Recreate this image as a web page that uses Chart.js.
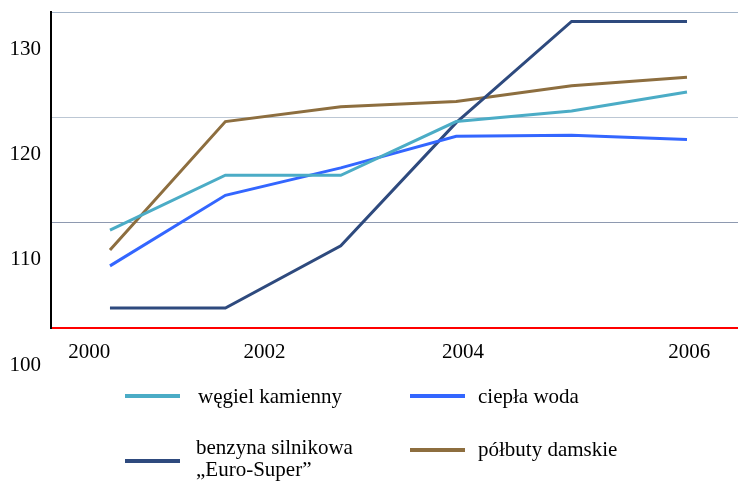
<!DOCTYPE html>
<html><head><meta charset="utf-8">
<script src="https://cdn.jsdelivr.net/npm/chart.js@4"></script>
<style>
html,body{margin:0;padding:0;background:#fff;}
#wrap{position:relative;width:738px;height:483px;overflow:hidden;}
canvas{position:absolute;left:0;top:0;}
.lg{position:absolute;font-family:"Liberation Serif","Times New Roman",serif;font-size:21px;color:#000;line-height:22px;white-space:pre;}
.sw{position:absolute;height:4px;width:55px;}
</style></head><body>
<div id="wrap"><canvas id="c" width="738" height="483"></canvas><div id="legend"></div></div>
<script>
// ---- data ----
const points = ['1', '2', '3', '4', '5', '6'];
const wegielKamienny = [109.3, 114.5, 114.5, 119.6, 120.6, 122.4];
const cieplaWoda     = [105.9, 112.6, 115.2, 118.2, 118.3, 117.9];
const benzyna        = [101.9, 101.9, 107.8, 119.5, 129.1, 129.1];
const polbutyDamskie = [107.4, 119.6, 121.0, 121.5, 123.0, 123.8];
const seriesNames = ['węgiel kamienny', 'ciepła woda', 'benzyna silnikowa\n„Euro-Super”', 'półbuty damskie'];
const yTickValues = [100, 110, 120, 130];
const xTickLabels = ['2000', '2002', '2004', '2006'];
const xTickPositions = [-0.18, 1.34, 3.06, 5.02];

const colors = ['#4bacc6', '#3366ff', '#2e4a7e', '#8d6e3f'];
const seriesValues = [wegielKamienny, cieplaWoda, benzyna, polbutyDamskie];
const FONT = {family: '"Liberation Serif", "Times New Roman", serif', size: 21};

const datasets = seriesValues.map((vals, s) => ({
  label: seriesNames[s],
  data: vals.map((v, i) => ({x: i, y: v})),
  borderColor: colors[s],
  backgroundColor: colors[s],
  borderWidth: 3,
  pointRadius: 0,
  tension: 0,
  fill: false,
  borderCapStyle: 'butt',
  borderJoinStyle: 'miter'
}));

new Chart(document.getElementById('c'), {
  type: 'line',
  data: {labels: points, datasets},
  options: {
    responsive: false,
    animation: false,
    events: [],
    layout: {padding: {top: 12, bottom: 115, left: 0, right: 0}},
    plugins: {legend: {display: false}, tooltip: {enabled: false}},
    scales: {
      x: {
        type: 'linear',
        min: -0.511, max: 5.442,
        afterBuildTicks: s => { s.ticks = xTickPositions.map(v => ({value: v})); },
        afterFit: s => { s.height = 40; s.paddingLeft = 0; s.paddingRight = 0; },
        ticks: {
          callback: (v, i) => xTickLabels[i],
          font: FONT, color: '#000', padding: 4, maxRotation: 0, autoSkip: false
        },
        grid: {display: false},
        border: {display: true, color: '#ff0000', width: 2}
      },
      y: {
        type: 'linear',
        min: 100, max: 130,
        afterBuildTicks: s => { s.ticks = yTickValues.map(v => ({value: v})); },
        afterFit: s => { s.width = 51; s.paddingTop = 0; s.paddingBottom = 0; },
        ticks: {
          callback: v => String(v),
          font: FONT, color: '#000', padding: 10, labelOffset: 37, autoSkip: false
        },
        grid: {
          drawTicks: false,
          lineWidth: 1,
          color: ctx => {
            const v = ctx.tick && ctx.tick.value;
            if (v === 100) return 'rgba(0,0,0,0)';
            if (v === 110) return '#8e99b0';
            if (v === 120) return '#bcc7d4';
            return '#a3b4c8';
          }
        },
        border: {display: true, color: '#000', width: 2}
      }
    }
  }
});

// ---- legend (HTML) ----
const legendLayout = [
  {sx: 125, sy: 394, tx: 198, ty: 385},
  {sx: 410, sy: 394, tx: 478, ty: 385},
  {sx: 125, sy: 459, tx: 196, ty: 436},
  {sx: 410, sy: 448, tx: 478, ty: 438}
];
const lg = document.getElementById('legend');
seriesNames.forEach((name, i) => {
  const L = legendLayout[i];
  const sw = document.createElement('div');
  sw.className = 'sw';
  sw.style.left = L.sx + 'px'; sw.style.top = L.sy + 'px';
  sw.style.background = colors[i];
  lg.appendChild(sw);
  const t = document.createElement('div');
  t.className = 'lg';
  t.style.left = L.tx + 'px'; t.style.top = L.ty + 'px';
  t.textContent = name;
  lg.appendChild(t);
});
</script>
</body></html>
